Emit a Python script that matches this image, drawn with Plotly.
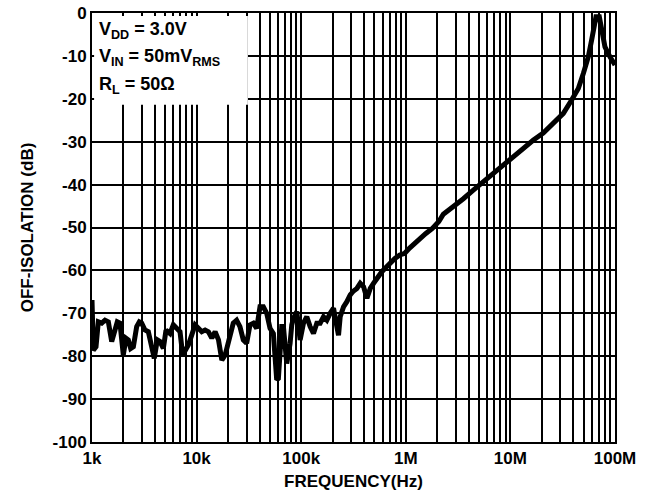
import plotly.graph_objects as go

freq_hz = [1000, 1030, 1092, 1149, 1238, 1331, 1433, 1543, 1659, 1746, 1852, 1992, 2114, 2225,
           2344, 2485, 2675, 2834, 2983, 3211, 3456, 3720, 3940, 4210, 4470, 4810, 5100, 5570,
           5990, 6450, 6940, 7360, 7760, 8340, 8980, 9670, 10410, 11200, 12060, 12980, 13970,
           15040, 16190, 17430, 18760, 20830, 22420, 24130, 25970, 27960, 30090, 32390, 34860,
           37520, 40380, 43470, 46790, 50350, 54200, 58340, 60530, 65150, 67590, 72750, 78300,
           81230, 84270, 90700, 94100, 97630, 105100, 113100, 121700, 131000, 141000, 151800,
           163400, 175800, 189200, 203700, 219200, 227400, 235900, 253900, 273300, 294200,
           316600, 340800, 366800, 394800, 425000, 457400, 492300, 529900, 590000, 635000,
           707000, 787000, 877000, 976000, 1087000, 1210000, 1348000, 1555000, 1794000,
           2070000, 2284000, 2840000, 3550000, 4420000, 5510000, 6870000, 8550000, 10700000,
           13300000, 16600000, 20600000, 25700000, 32100000, 38500000, 44600000, 49800000,
           55600000, 59800000, 62900000, 65800000, 70800000, 74600000, 80200000, 89500000,
           100000000]
isolation_db = [-66.9, -78.6, -77.8, -72.0, -72.3, -71.6, -72.0, -76.6, -73.9, -72.0, -72.3, -79.7,
                -75.8, -76.2, -78.2, -77.8, -73.1, -72.0, -72.3, -73.9, -74.3, -77.8, -80.5, -76.2,
                -76.6, -78.2, -73.9, -74.7, -72.7, -73.5, -74.3, -79.7, -78.9, -77.4, -75.1, -72.7,
                -73.5, -74.3, -73.9, -74.3, -75.8, -74.3, -76.2, -80.9, -79.7, -75.1, -72.3, -71.6,
                -73.1, -76.2, -77.0, -72.7, -72.3, -73.5, -68.5, -68.5, -70.0, -73.5, -74.7, -85.5,
                -85.2, -73.1, -73.1, -81.7, -77.0, -72.7, -71.2, -69.6, -73.1, -76.2, -72.3, -70.8,
                -73.1, -74.7, -72.3, -72.3, -70.8, -71.6, -70.0, -68.8, -73.1, -75.1, -70.8, -68.5,
                -67.3, -65.7, -64.8, -64.2, -63.0, -63.8, -66.5, -64.2, -63.0, -61.8, -60.3, -59.5,
                -58.3, -57.2, -56.4, -56.0, -54.8, -53.7, -52.5, -51.4, -50.2, -48.6, -46.9, -45.2,
                -43.3, -41.3, -39.3, -37.4, -35.4, -33.5, -31.5, -29.6, -28.0, -25.7, -23.4, -20.3,
                -17.6, -14.1, -10.2, -6.3, -2.4, -0.9, -0.9, -4.0, -7.9, -10.2, -12.1]

decades = [1e3, 1e4, 1e5, 1e6, 1e7, 1e8]
decade_labels = ["1k", "10k", "100k", "1M", "10M", "100M"]
y_ticks = list(range(-100, 1, 10))
notes = ["V<sub>DD</sub> = 3.0V", "V<sub>IN</sub> = 50mV<sub>RMS</sub>", "R<sub>L</sub> = 50Ω"]
note_y = [-4.0, -10.3, -16.8]

x_tickvals, x_ticktext = [], []
for d, lab in zip(decades, decade_labels):
    if d < 1e8:
        for m in range(1, 10):
            x_tickvals.append(d * m)
            x_ticktext.append("<b>" + lab + "</b>" if m == 1 else "")
    else:
        x_tickvals.append(d)
        x_ticktext.append("<b>" + lab + "</b>")

FONT = "Liberation Sans, Arial, sans-serif"

fig = go.Figure()
fig.add_trace(go.Scatter(x=freq_hz, y=isolation_db, mode="lines",
                         line=dict(color="black", width=5), showlegend=False))

fig.update_layout(
    width=646, height=491,
    margin=dict(l=92, r=31, t=13, b=49, autoexpand=False),
    paper_bgcolor="white", plot_bgcolor="white",
    font=dict(family=FONT, size=17, color="black"),
)
fig.update_xaxes(
    type="log", range=[3, 8], automargin=False,
    tickvals=x_tickvals, ticktext=x_ticktext,
    showgrid=True, gridcolor="black", gridwidth=2,
    showline=True, linecolor="black", linewidth=2, mirror=True,
    ticks="", tickfont=dict(family=FONT, size=17),
    title=dict(text="<b>FREQUENCY(Hz)</b>", font=dict(family=FONT, size=17)),
    zeroline=False,
)
fig.update_yaxes(
    range=[-100, 0], automargin=False,
    tickvals=y_ticks, ticktext=["<b>%d</b>" % v for v in y_ticks],
    showgrid=True, gridcolor="black", gridwidth=2,
    showline=True, linecolor="black", linewidth=2, mirror=True,
    ticks="", tickfont=dict(family=FONT, size=17),
    title=dict(text="<b>OFF-ISOLATION (dB)</b>", font=dict(family=FONT, size=17)),
    zeroline=False,
)

fig.add_shape(type="rect", xref="paper", yref="y", x0=0.004, x1=0.298, y0=-21.4, y1=-0.7,
              fillcolor="white", line=dict(width=0), layer="above")

for t, yv in zip(notes, note_y):
    fig.add_annotation(text="<b>" + t + "</b>", xref="paper", yref="y", x=0.01, y=yv,
                       xanchor="left", yanchor="middle", showarrow=False,
                       font=dict(family=FONT, size=18, color="black"))

fig.write_html("out.html")
